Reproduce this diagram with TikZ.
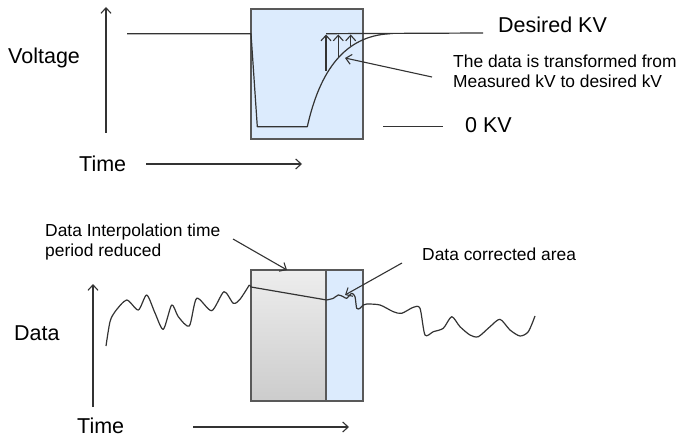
\documentclass[tikz,border=0pt]{standalone}
\usepackage{fontspec}
\setmainfont{Liberation Sans}
\usetikzlibrary{arrows.meta}
\newlength{\du}
\setlength{\du}{1pt}
\definecolor{dialinecolor}{rgb}{0.200000, 0.200000, 0.200000}
\definecolor{diaboxcolor}{rgb}{0.350000, 0.350000, 0.350000}
\definecolor{diabluecolor}{rgb}{0.862745, 0.921569, 0.992157}
\tikzset{
  sigline/.style={draw=dialinecolor, line width=1.2\du, line join=round},
  axisline/.style={draw=dialinecolor, line width=1.1\du, -{Straight Barb[length=5.5pt,width=10pt]}},
  noteline/.style={draw=dialinecolor, line width=1.1\du, -{Straight Barb[length=5.5pt,width=10pt]}},
  bigtext/.style={inner sep=0pt, anchor=base west, font=\fontsize{21.5}{24}\selectfont},
  notetext/.style={inner sep=0pt, align=left, font=\fontsize{17.4}{20}\selectfont},
}

\begin{document}
\begin{tikzpicture}
\pgftransformxscale{1.000000}
\pgftransformyscale{-1.000000}
\useasboundingbox (0\du,0\du) rectangle (680\du,441\du);
% upper box
\fill[diabluecolor] (251\du,9\du) rectangle (363\du,139\du);
\draw[diaboxcolor, line width=1.2\du] (251\du,9\du) rectangle (363\du,139\du);
% voltage signal
\draw[sigline] (127\du,33.7\du)--(251\du,33.7\du)--(257.3\du,126.7\du)--(307.3\du,126.7\du) .. controls (320\du,70\du) and (345\du,36\du) .. (390\du,33.7\du);
\draw[sigline] (326\du,33.7\du)--(483\du,33\du);
\draw[sigline] (383\du,126.7\du)--(443\du,126.7\du);
% transform arrows
\draw[noteline] (326\du,71\du)--(326\du,34.5\du);
\draw[noteline] (338.3\du,58.3\du)--(338.3\du,34.5\du);
\draw[noteline] (350.7\du,46\du)--(350.7\du,34.5\du);
% axes top
\coordinate (vtop0) at (106\du,133\du);
\coordinate (vtop1) at (106\du,7\du);
\coordinate (ttop0) at (146\du,164\du);
\coordinate (ttop1) at (302\du,164\du);
\draw[axisline] (vtop0)--(vtop1);
\draw[axisline] (ttop0)--(ttop1);
% setfont left to latex
\node[bigtext] (voltage) at (8\du,63.5\du){Voltage};
\node[bigtext] (timetop) at (79\du,171.5\du){Time};
\node[bigtext] (desired) at (498\du,32.5\du){Desired KV};
\node[bigtext] (zerokv) at (465\du,132\du){0 KV};
\node[notetext, anchor=north west] (transform) at (453\du,54.5\du){The data is transformed from\\Measured kV to desired kV};
\coordinate (transtail) at (432\du,77\du);
\coordinate (transtip) at (345\du,58\du);
\draw[noteline] (transtail)--(transtip);
% lower boxes
\shade[top color=black!7, bottom color=black!20] (251\du,270\du) rectangle (326\du,401\du);
\draw[diaboxcolor, line width=1.2\du] (251\du,270\du) rectangle (326\du,401\du);
\fill[diabluecolor] (326\du,270\du) rectangle (363\du,401\du);
\draw[diaboxcolor, line width=1.2\du] (326\du,270\du) rectangle (363\du,401\du);
% data signal
\draw[sigline] plot[smooth, tension=0.45] coordinates {(106\du,346\du) (110\du,321.7\du) (115\du,311.7\du) (126.7\du,300\du) (138.3\du,310\du) (146.7\du,295\du) (155\du,313\du) (163.3\du,329.3\du) (171.7\du,305\du) (178.3\du,316.7\du) (189.3\du,326\du) (196.7\du,298.3\du) (211.7\du,310.7\du) (224\du,291.7\du) (233.3\du,303.3\du) (240\du,299.3\du) (249.3\du,285\du)};
\draw[sigline] (249.3\du,285\du)--(251\du,287\du)--(326.7\du,300\du);
\draw[sigline] plot[smooth, tension=0.45] coordinates {(326.7\du,300\du) (333.3\du,298.3\du) (338.3\du,295\du) (343.3\du,296.7\du) (346.7\du,298.3\du) (351.7\du,293.3\du) (355\du,296.7\du) (356.7\du,308.3\du) (360\du,308.3\du) (363.3\du,305\du) (366.7\du,304\du) (380\du,305\du) (393.3\du,311.7\du) (401.7\du,313.3\du) (413.3\du,307.3\du) (420\du,308.3\du) (425\du,335\du) (433.3\du,331.7\du) (443.3\du,328.3\du) (451.7\du,316.7\du) (460\du,326.7\du) (470\du,335\du) (478.3\du,336.7\du) (490\du,326.7\du) (500\du,319.3\du) (510\du,330\du) (520\du,336\du) (528.3\du,331.7\du) (535\du,316\du)};
% axes bottom
\coordinate (vbot0) at (93\du,407\du);
\coordinate (vbot1) at (93\du,284\du);
\coordinate (tbot0) at (193\du,427\du);
\coordinate (tbot1) at (349\du,427\du);
\draw[axisline] (vbot0)--(vbot1);
\draw[axisline] (tbot0)--(tbot1);
% setfont left to latex
\node[bigtext] (datalabel) at (14\du,340\du){Data};
\node[bigtext] (timebot) at (77\du,433\du){Time};
\node[notetext, anchor=north west] (interp) at (45\du,223.5\du){Data Interpolation time\\period reduced};
\node[notetext, anchor=base west] (corrected) at (422\du,260\du){Data corrected area};
\coordinate (interptail) at (233\du,239\du);
\coordinate (interptip) at (287\du,270\du);
\coordinate (corrtail) at (402\du,263\du);
\coordinate (corrtip) at (345\du,295\du);
\draw[noteline] (interptail)--(interptip);
\draw[noteline] (corrtail)--(corrtip);
\end{tikzpicture}
\end{document}
